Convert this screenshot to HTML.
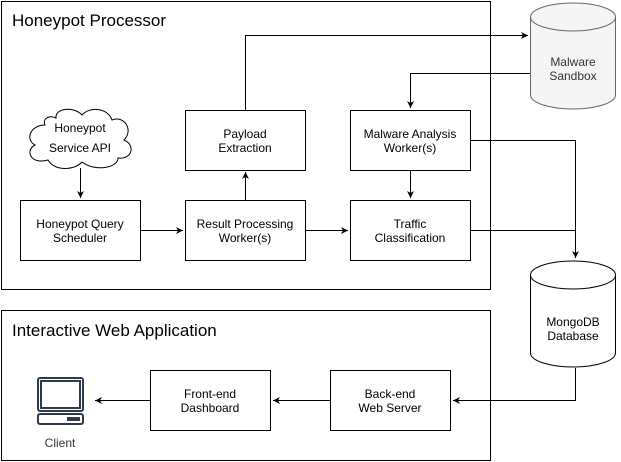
<!DOCTYPE html>
<html><head><style>body{margin:0;background:#fff}svg{display:block}text{font-family:"Liberation Sans",sans-serif;font-size:12px;fill:#000}</style></head><body>
<svg width="621" height="462" viewBox="0 0 621 462">
<defs><marker id="a" markerWidth="8" markerHeight="8" refX="7" refY="4" orient="auto" markerUnits="userSpaceOnUse"><path d="M0,0.5 L7,4 L0,7.5 L2,4Z" fill="#000"/></marker></defs>
<g fill="none" stroke="#000" stroke-width="1">
<rect x="1.5" y="1.5" width="489" height="288"/>
<rect x="1.5" y="310.5" width="489" height="150"/>
<rect x="20.5" y="200.5" width="120" height="60"/>
<rect x="185.5" y="200.5" width="120" height="60"/>
<rect x="350.5" y="200.5" width="120" height="60"/>
<rect x="185.5" y="110.5" width="120" height="60"/>
<rect x="350.5" y="110.5" width="120" height="60"/>
<rect x="330.5" y="370.5" width="120" height="60"/>
<rect x="150.5" y="370.5" width="120" height="60"/>
<path d="M80.5,168 V198" marker-end="url(#a)"/>
<path d="M140.5,230.5 H183" marker-end="url(#a)"/>
<path d="M305.5,230.5 H348" marker-end="url(#a)"/>
<path d="M245.5,200 V172" marker-end="url(#a)"/>
<path d="M410.5,170 V198" marker-end="url(#a)"/>
<path d="M245.5,110 V35.5 H528" marker-end="url(#a)"/>
<path d="M530,73.5 H410.5 V108" marker-end="url(#a)"/>
<path d="M470.5,140.5 H575.5 V258" marker-end="url(#a)"/>
<path d="M470.5,230.5 H575.5"/>
<path d="M575.5,368 V400.5 H453" marker-end="url(#a)"/>
<path d="M330.5,400.5 H273" marker-end="url(#a)"/>
<path d="M150.5,400.5 H95" marker-end="url(#a)"/>
<path d="M45,125 C30,125 25,140 35,145 C25,150 30,165 48,160 C55,172 75,170 82,162 C95,172 118,168 118,158 C132,160 136,145 124,140 C134,130 124,115 112,120 C108,108 90,106 82,115 C74,106 55,108 56,118 C50,115 42,118 45,125Z" fill="#fff"/>
<g stroke="#666" fill="#f5f5f5"><path d="M530.5,17 V95 A42.5,14 0 0 0 615.5,95 V17"/><ellipse cx="573" cy="17" rx="42.5" ry="14"/></g>
<path d="M530.5,275 V353 A42.5,14 0 0 0 615.5,353 V275" fill="#fff"/><ellipse cx="573" cy="275" rx="42.5" ry="14" fill="#fff"/>
<g stroke="#2f3a4a" stroke-width="2"><rect x="38" y="378" width="45" height="33" rx="2"/><rect x="41" y="381" width="39" height="27"/><rect x="38" y="414" width="45" height="10" rx="2"/></g>
</g>
<rect x="67" y="417" width="13" height="4" fill="#2f3a4a"/>
<text x="12" y="26" style="font-size:17px">Honeypot Processor</text>
<text x="12" y="336" style="font-size:17px">Interactive Web Application</text>
<g text-anchor="middle">
<text x="80" y="132">Honeypot</text><text x="80" y="152">Service API</text>
<text x="80" y="228">Honeypot Query</text><text x="80" y="242">Scheduler</text>
<text x="245" y="228">Result Processing</text><text x="245" y="242">Worker(s)</text>
<text x="410" y="228">Traffic</text><text x="410" y="242">Classification</text>
<text x="245" y="138">Payload</text><text x="245" y="152">Extraction</text>
<text x="410" y="138">Malware Analysis</text><text x="410" y="152">Worker(s)</text>
<text x="390" y="398">Back-end</text><text x="390" y="412">Web Server</text>
<text x="210" y="398">Front-end</text><text x="210" y="412">Dashboard</text>
<text x="573" y="66" style="fill:#333">Malware</text><text x="573" y="80" style="fill:#333">Sandbox</text>
<text x="573" y="326">MongoDB</text><text x="573" y="340">Database</text>
<text x="60" y="447" style="fill:#333">Client</text>
</g>
</svg>
</body></html>
